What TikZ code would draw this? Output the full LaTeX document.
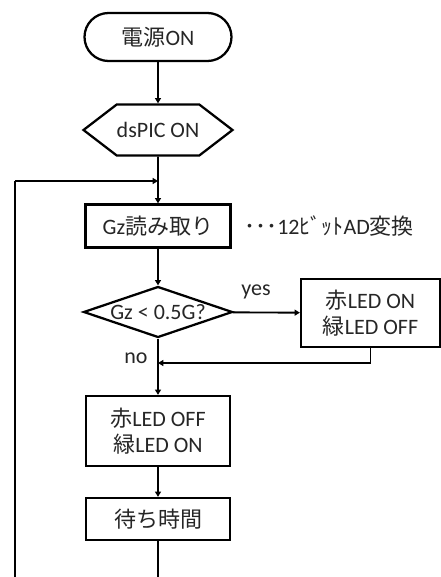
\documentclass[tikz,border=0pt]{standalone}
\usepackage{fontspec}
\setmainfont{Carlito}
\newfontfamily\jpfont{Noto Sans CJK JP}
\newcommand{\jp}[1]{{\jpfont #1}}
\usetikzlibrary{shapes.misc,shapes.geometric,shapes.symbols,arrows.meta}

\begin{document}
\begin{tikzpicture}[x=0.75pt,y=-0.75pt,
    every node/.style={font=\fontsize{16.5}{19}\selectfont, text=black!85},
    box/.style={draw=black, line width=1.7pt, align=center, inner sep=0pt},
    flow/.style={line width=1.4pt, -{Triangle[length=4pt,width=4.5pt]}},
    link/.style={line width=1.4pt}]
    % Page frame (cuts the loop at the bottom)
    \clip (0,0) rectangle (441,577);

    % Start and init
    \node[box, rounded rectangle, minimum width=110.25pt, minimum height=36pt] (power) at (158,37) {\jp{電源}ON};
    \node[box, signal, signal to=west and east, signal pointer angle=75, minimum width=110.25pt, minimum height=38.25pt] (pic) at (158,130) {dsPIC ON};

    % Read sensor
    \node[box, minimum width=108.75pt, minimum height=32.25pt] (read) at (158,226) {Gz\jp{読み取り}};
    \node[anchor=west, inner sep=0pt] (note) at (244,226) {\jp{･･･}12\jp{ﾋﾞｯﾄ}AD\jp{変換}};

    % Decision
    \node[box, diamond, aspect=2.9, minimum width=111.75pt, minimum height=38.25pt] (check) at (158,312) {Gz < 0.5G?};
    \node[box, minimum width=104.25pt, minimum height=51pt] (alarm) at (370.5,313) {\jp{赤}LED ON\\\jp{緑}LED OFF};
    \node (yes) at (256,292) {yes};
    \node (no) at (136,358) {no};

    % Normal state and wait
    \node[box, minimum width=108pt, minimum height=52.5pt] (normal) at (158,431) {\jp{赤}LED OFF\\\jp{緑}LED ON};
    \node[box, minimum width=108pt, minimum height=31.5pt] (wait) at (158,519) {\jp{待ち時間}};

    % Helper points
    \coordinate (join) at (158,181);
    \coordinate (back) at (15,181);
    \coordinate (merge) at (158,363);
    \coordinate (low) at (158,600);
    \coordinate (lowleft) at (15,600);

    % Connectors
    \draw[flow] (power) -- (pic);
    \draw[flow] (pic) -- (read);
    \draw[flow] (read) -- (check);
    \draw[flow] (check) -- (alarm);
    \draw[flow] (check) -- (normal);
    \draw[flow] (alarm.south) |- (merge);
    \draw[flow] (normal) -- (wait);

    % Loop back
    \draw[link] (wait) -- (low) -- (lowleft) -- (back);
    \draw[flow] (back) -- (join);
\end{tikzpicture}
\end{document}
